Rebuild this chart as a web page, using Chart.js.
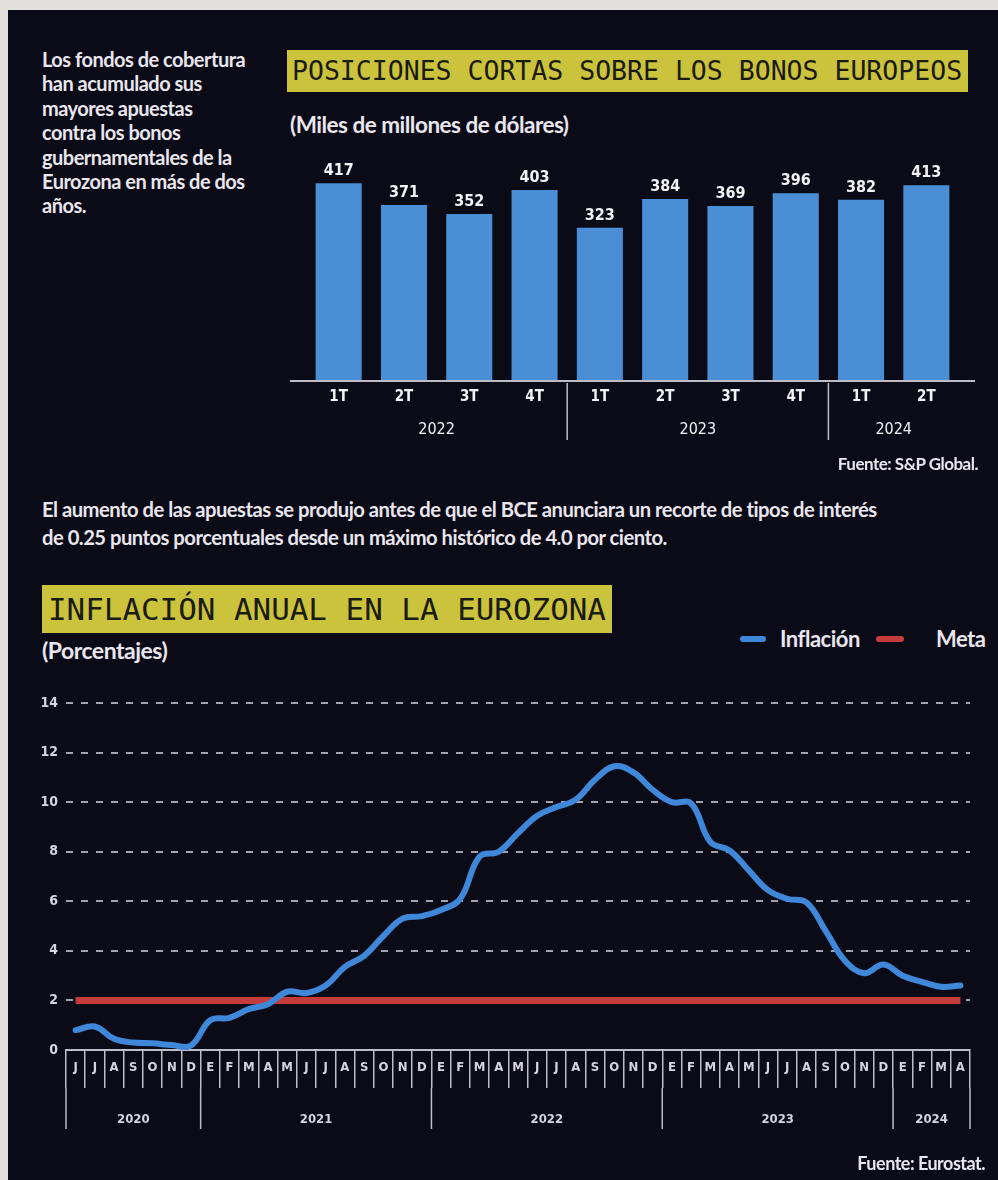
<!DOCTYPE html>
<html lang="es">
<head>
<meta charset="utf-8">
<title>Posiciones cortas e inflación en la eurozona</title>
<script src="https://cdn.jsdelivr.net/npm/chart.js@4.4.1/dist/chart.umd.min.js"></script>
<style>
  html, body { margin: 0; padding: 0; }
  body {
    width: 998px; height: 1180px; position: relative; overflow: hidden;
    background: #e2e0dc; font-family: Lato, 'Open Sans', sans-serif;
  }
  #panel { position: absolute; left: 8px; top: 10px; right: 0; bottom: 0; background: #0b0b18; }
  .txt { position: absolute; color: #e9e6ee; font-weight: 700; letter-spacing: -0.5px; white-space: nowrap; }
  .title {
    position: absolute; background: #cbc33b; color: #1b1b16; white-space: nowrap;
    font-family: 'DejaVu Sans Mono', 'Liberation Mono', monospace;
  }
  .key { position: absolute; height: 6px; border-radius: 3px; }
  canvas { position: absolute; }
</style>
</head>
<body>
<div id="panel"></div>

<div class="txt" style="left:42px; top:47px; font-size:20px; line-height:24.4px;">
  Los fondos de cobertura<br>han acumulado sus<br>mayores apuestas<br>contra los bonos<br>gubernamentales de la<br>Eurozona en más de dos<br>años.
</div>

<div class="title" style="left:287px; top:50px; width:676px; height:42px; line-height:42px; font-size:26.5px; padding-left:5px;">POSICIONES CORTAS SOBRE LOS BONOS EUROPEOS</div>
<div class="txt" style="left:290px; top:111px; font-size:22.5px; line-height:28px;">(Miles de millones de dólares)</div>
<canvas id="barChart" width="718" height="320" style="left:280px; top:140px;"></canvas>
<div class="txt" style="right:20px; top:453px; font-size:17px; line-height:22px;">Fuente: S&amp;P Global.</div>

<div class="txt" style="left:42px; top:495px; font-size:20.2px; line-height:28px;">
  El aumento de las apuestas se produjo antes de que el BCE anunciara un recorte de tipos de interés<br>de 0.25 puntos porcentuales desde un máximo histórico de 4.0 por ciento.
</div>

<div class="title" style="left:42px; top:585px; width:564px; height:48px; line-height:48px; font-size:30.9px; padding-left:6px;">INFLACIÓN ANUAL EN LA EUROZONA</div>
<div class="txt" style="left:42px; top:636px; font-size:23px; line-height:28px;">(Porcentajes)</div>

<div class="key" style="left:740px; top:636px; width:26px; background:#3f87d9;"></div>
<div class="txt" style="left:780px; top:625px; font-size:22px; line-height:28px;">Inflación</div>
<div class="key" style="left:876px; top:636px; width:28px; background:#c43b3c;"></div>
<div class="txt" style="left:936px; top:625px; font-size:22px; line-height:28px;">Meta</div>

<canvas id="lineChart" width="988" height="500" style="left:10px; top:680px;"></canvas>
<div class="txt" style="right:13px; top:1152px; font-size:18px; line-height:22px;">Fuente: Eurostat.</div>

<script>
// Short positions on European bonds, by quarter (billions of dollars)
const quarters = ['1T', '2T', '3T', '4T', '1T', '2T', '3T', '4T', '1T', '2T'];
const quarterYears = ['2022', '2023', '2024'];
const quartersPerYear = [4, 4, 2];
const shortPositions = [417, 371, 352, 403, 323, 384, 369, 396, 382, 413];

// Eurozone annual inflation, June 2020 to April 2024 (percent)
const months = [
  'J', 'J', 'A', 'S', 'O', 'N', 'D',
  'E', 'F', 'M', 'A', 'M', 'J', 'J', 'A', 'S', 'O', 'N', 'D',
  'E', 'F', 'M', 'A', 'M', 'J', 'J', 'A', 'S', 'O', 'N', 'D',
  'E', 'F', 'M', 'A', 'M', 'J', 'J', 'A', 'S', 'O', 'N', 'D',
  'E', 'F', 'M', 'A'
];
const monthYears = ['2020', '2021', '2022', '2023', '2024'];
const monthsPerYear = [7, 12, 12, 12, 4];
const inflation = [
  0.8, 0.95, 0.45, 0.3, 0.27, 0.2, 0.18,
  1.2, 1.3, 1.65, 1.85, 2.35, 2.3, 2.6, 3.35, 3.8, 4.6, 5.3, 5.4,
  5.65, 6.1, 7.8, 8.0, 8.75, 9.45, 9.8, 10.1, 10.9, 11.45, 11.2, 10.5,
  10.0, 9.95, 8.4, 8.05, 7.25, 6.45, 6.1, 5.95, 4.8, 3.6, 3.1, 3.45,
  3.0, 2.75, 2.55, 2.6
];
const targetRate = 2;
const yTicks = [0, 2, 4, 6, 8, 10, 12, 14];

const narrow = "'Liberation Sans Narrow', 'DejaVu Sans Condensed', Roboto, sans-serif";
const axisGrey = '#bdbdc8';

Chart.defaults.font.family = narrow;
Chart.defaults.color = '#e6e4ea';

// value labels, quarter/year rows and the base line under the bars
const barDecorations = {
  id: 'barDecorations',
  afterDatasetsDraw(chart) {
    const ctx = chart.ctx;
    const area = chart.chartArea;
    const bars = chart.getDatasetMeta(0).data;
    const base = chart.scales.y.getPixelForValue(0);
    ctx.save();

    ctx.strokeStyle = axisGrey;
    ctx.lineWidth = 2;
    ctx.beginPath();
    ctx.moveTo(area.left - 16, base);
    ctx.lineTo(area.right + 16, base);
    ctx.stroke();

    ctx.fillStyle = '#f2f2f4';
    ctx.textAlign = 'center';
    bars.forEach((bar, i) => {
      ctx.font = 'bold 16px ' + narrow;
      ctx.textBaseline = 'bottom';
      ctx.fillText(shortPositions[i], bar.x, bar.y - 4);
      ctx.font = 'bold 15px ' + narrow;
      ctx.textBaseline = 'middle';
      ctx.fillText(quarters[i], bar.x, base + 16);
    });

    let start = 0;
    quarterYears.forEach((year, k) => {
      const end = start + quartersPerYear[k] - 1;
      ctx.font = '16px ' + narrow;
      ctx.textBaseline = 'middle';
      ctx.fillText(year, (bars[start].x + bars[end].x) / 2, base + 49);
      if (k > 0) {
        const x = (bars[start - 1].x + bars[start].x) / 2;
        ctx.strokeStyle = axisGrey;
        ctx.lineWidth = 1.5;
        ctx.beginPath();
        ctx.moveTo(x, base + 2);
        ctx.lineTo(x, base + 59);
        ctx.stroke();
      }
      start = end + 1;
    });
    ctx.restore();
  }
};

new Chart(document.getElementById('barChart'), {
  type: 'bar',
  data: {
    labels: quarters,
    datasets: [{
      data: shortPositions,
      backgroundColor: '#4a8fd6',
      barPercentage: 0.705,
      categoryPercentage: 1
    }]
  },
  options: {
    responsive: false,
    animation: false,
    layout: { padding: { left: 26, right: 39, top: 20, bottom: 79 } },
    plugins: { legend: { display: false }, tooltip: { enabled: false } },
    scales: {
      x: { display: false },
      y: { display: false, min: 0, max: 466 }
    }
  },
  plugins: [barDecorations]
});

// year row under the month cells, with the long dividers
const yearRow = {
  id: 'yearRow',
  afterDraw(chart) {
    const ctx = chart.ctx;
    const x = chart.scales.x;
    const bottom = chart.chartArea.bottom;
    const half = (x.getPixelForValue(1) - x.getPixelForValue(0)) / 2;
    ctx.save();
    ctx.strokeStyle = axisGrey;
    ctx.lineWidth = 1.5;
    ctx.fillStyle = '#d6d4dc';
    ctx.font = 'bold 13px ' + narrow;
    ctx.textAlign = 'center';
    ctx.textBaseline = 'middle';

    let start = 0;
    monthYears.forEach((year, k) => {
      const end = start + monthsPerYear[k] - 1;
      const left = x.getPixelForValue(start) - half;
      const right = x.getPixelForValue(end) + half;
      ctx.fillText(year, (left + right) / 2, bottom + 70);
      ctx.beginPath();
      ctx.moveTo(left, bottom + 38);
      ctx.lineTo(left, bottom + 79);
      if (k === monthYears.length - 1) {
        ctx.moveTo(right, bottom + 38);
        ctx.lineTo(right, bottom + 79);
      }
      ctx.stroke();
      start = end + 1;
    });
    ctx.restore();
  }
};

new Chart(document.getElementById('lineChart'), {
  type: 'line',
  data: {
    labels: months,
    datasets: [
      {
        label: 'Inflación',
        data: inflation,
        borderColor: '#3f87d9',
        borderWidth: 6,
        tension: 0.4,
        pointRadius: 0,
        borderCapStyle: 'round',
        order: 0
      },
      {
        label: 'Meta',
        data: months.map(() => targetRate),
        borderColor: '#c43b3c',
        borderWidth: 7,
        pointRadius: 0,
        order: 1
      }
    ]
  },
  options: {
    responsive: false,
    animation: false,
    layout: { padding: { left: 0, right: 28, top: 23, bottom: 40 } },
    plugins: { legend: { display: false }, tooltip: { enabled: false } },
    scales: {
      x: {
        type: 'category',
        offset: true,
        afterFit(scale) { scale.height = 90; },
        grid: {
          offset: true,
          drawOnChartArea: false,
          drawTicks: true,
          tickLength: 38,
          color: axisGrey,
          lineWidth: 1.5
        },
        border: { display: true, color: axisGrey, width: 2 },
        ticks: {
          autoSkip: false,
          maxRotation: 0,
          padding: -28,
          color: '#d6d4dc',
          font: { size: 13, weight: 'bold' }
        }
      },
      y: {
        min: 0,
        max: 14,
        afterFit(scale) { scale.width = 56; },
        afterBuildTicks(scale) { scale.ticks = yTicks.map(v => ({ value: v })); },
        grid: {
          drawTicks: false,
          color: c => (c.tick && c.tick.value === 0 ? 'rgba(0,0,0,0)' : '#a3a3ae'),
          lineWidth: 2
        },
        border: { display: false, dash: [7, 8] },
        ticks: {
          padding: 8,
          color: '#d6d4dc',
          font: { size: 14, weight: 'bold' }
        }
      }
    }
  },
  plugins: [yearRow]
});
</script>
</body>
</html>
